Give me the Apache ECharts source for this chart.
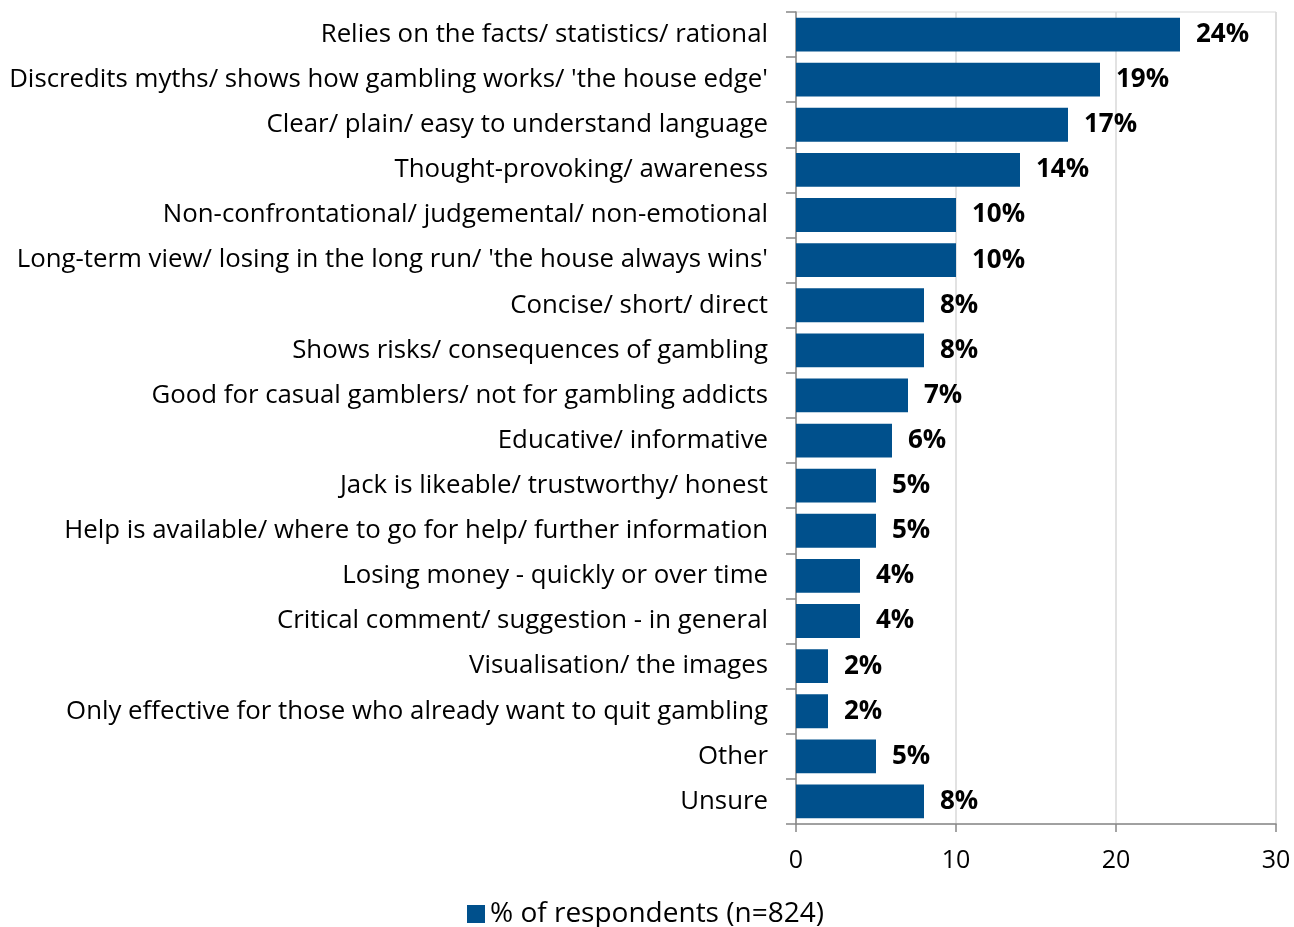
<!DOCTYPE html>
<html>
<head>
<meta charset="utf-8">
<style>
  html, body { margin: 0; padding: 0; background: #ffffff; }
  #chart { width: 1294px; height: 927px; }
</style>
<script src="https://cdn.jsdelivr.net/npm/echarts@6/dist/echarts.min.js"></script>
</head>
<body>
<div id="chart"></div>
<script>
// Reasons given for the message's effectiveness, top to bottom
const categories = [
  "Relies on the facts/ statistics/ rational",
  "Discredits myths/ shows how gambling works/ 'the house edge'",
  "Clear/ plain/ easy to understand language",
  "Thought-provoking/ awareness",
  "Non-confrontational/ judgemental/ non-emotional",
  "Long-term view/ losing in the long run/ 'the house always wins'",
  "Concise/ short/ direct",
  "Shows risks/ consequences of gambling",
  "Good for casual gamblers/ not for gambling addicts",
  "Educative/ informative",
  "Jack is likeable/ trustworthy/ honest",
  "Help is available/ where to go for help/ further information",
  "Losing money - quickly or over time",
  "Critical comment/ suggestion - in general",
  "Visualisation/ the images",
  "Only effective for those who already want to quit gambling",
  "Other",
  "Unsure"
];

const respondents = [24, 19, 17, 14, 10, 10, 8, 8, 7, 6, 5, 5, 4, 4, 2, 2, 5, 8];

const seriesName = "% of respondents (n=824)";
const xTicks = [0, 10, 20, 30];

const FONT = "'Open Sans', sans-serif";

const chart = echarts.init(document.getElementById('chart'));
chart.setOption({
  animation: false,
  textStyle: { fontFamily: FONT },
  grid: {
    left: 796, right: 18, top: 12, bottom: 103,
    show: true, borderColor: '#d9d9d9', borderWidth: 1
  },
  legend: {
    data: [seriesName],
    left: 462,
    top: 895,
    itemWidth: 18,
    itemHeight: 18,
    itemGap: 8,
    icon: 'rect',
    textStyle: { fontFamily: FONT, fontSize: 28, color: '#000' }
  },
  xAxis: {
    type: 'value',
    min: xTicks[0],
    max: xTicks[xTicks.length - 1],
    interval: 10,
    axisLine: { show: true, lineStyle: { color: '#888888', width: 1.5 } },
    axisTick: { show: true, length: 8, lineStyle: { color: '#888888', width: 1.5 } },
    splitLine: { show: true, lineStyle: { color: '#d9d9d9', width: 1.5 } },
    axisLabel: { fontFamily: FONT, fontSize: 25, color: '#000', margin: 24 }
  },
  yAxis: {
    type: 'category',
    data: categories,
    inverse: true,
    axisLine: { show: true, lineStyle: { color: '#888888', width: 1.5 } },
    axisTick: { show: true, length: 10, lineStyle: { color: '#888888', width: 1.5 } },
    axisLabel: { fontFamily: FONT, fontSize: 25.8, color: '#000', margin: 28 }
  },
  series: [{
    name: seriesName,
    type: 'bar',
    data: respondents,
    barCategoryGap: '25%',
    itemStyle: { color: '#00508C' },
    label: {
      show: true,
      position: 'right',
      distance: 16,
      formatter: '{c}%',
      fontFamily: FONT,
      fontWeight: 'bold',
      fontSize: 26,
      color: '#000'
    }
  }]
});
</script>
</body>
</html>
